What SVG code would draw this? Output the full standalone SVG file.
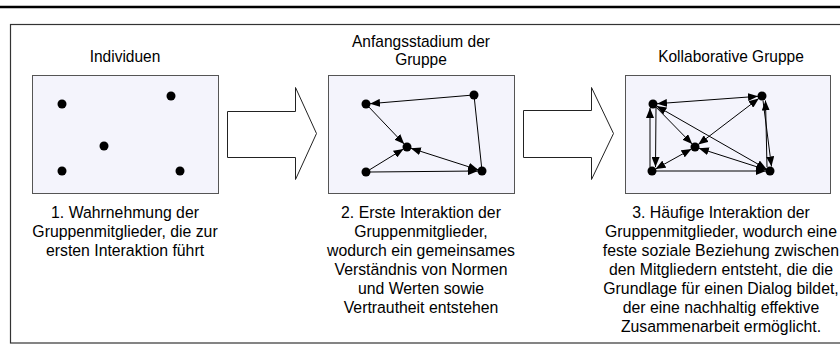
<svg xmlns="http://www.w3.org/2000/svg" width="840" height="354" viewBox="0 0 840 354">
  <defs>
    <marker id="ah" viewBox="0 0 10 8" refX="10" refY="4" markerWidth="10" markerHeight="8" markerUnits="userSpaceOnUse" orient="auto-start-reverse">
      <path d="M0,0 L10,4 L0,8 z" fill="#000"/>
    </marker>
  </defs>
  <style>
    .txt { font-family: "Liberation Sans", Arial, sans-serif; font-size: 17px; fill: #000; text-anchor: middle; }
    .ttl { font-family: "Liberation Sans", Arial, sans-serif; font-size: 16px; fill: #000; text-anchor: middle; }
    .panel { fill: #f4f4fc; stroke: #555; stroke-width: 1; }
    .dot { fill: #000; }
    .big-arrow { fill: #fff; stroke: #222; stroke-width: 1; }
    .edge { stroke: #000; stroke-width: 1; fill: none; }
    .one { marker-end: url(#ah); }
    .two { marker-start: url(#ah); marker-end: url(#ah); }
  </style>

  <rect width="840" height="354" fill="#fff"/>
  <!-- header rule and outer frame -->
  <line x1="0" y1="7" x2="840" y2="7" stroke="#000" stroke-width="2.5"/>
  <rect x="10.5" y="24.5" width="840" height="318.5" fill="none" stroke="#333" stroke-width="1.2"/>

  <!-- stage 1: individuals -->
  <g id="stage1">
    <g transform="translate(125,0) scale(0.97,1)">
      <text class="ttl" x="0" y="62">Individuen</text>
    </g>
    <rect class="panel" x="32.5" y="75.5" width="186" height="118"/>
    <circle class="dot" cx="62" cy="104" r="4.5"/>
    <circle class="dot" cx="171" cy="96" r="4.5"/>
    <circle class="dot" cx="104" cy="146" r="4.5"/>
    <circle class="dot" cx="62" cy="171" r="4.5"/>
    <circle class="dot" cx="180" cy="171" r="4.5"/>
    <g transform="translate(125,0) scale(0.93,1)">
      <text class="txt" x="0" y="218">1. Wahrnehmung der</text>
      <text class="txt" x="0" y="237">Gruppenmitglieder, die zur</text>
      <text class="txt" x="0" y="256">ersten Interaktion führt</text>
    </g>
  </g>

  <!-- transition arrows -->
  <g id="arrow1">
    <path class="big-arrow" d="M227.5,111.5 H295.5 V87.5 L316.5,133.5 L295.5,179.5 V157.5 H227.5 Z"/>
  </g>
  <g id="arrow2">
    <path class="big-arrow" d="M523.5,110.5 H591.5 V87.5 L613.5,133.5 L591.5,179.5 V157.5 H523.5 Z"/>
  </g>

  <!-- stage 2: initial group -->
  <g id="stage2">
    <g transform="translate(421,0) scale(0.97,1)">
      <text class="ttl" x="0" y="47">Anfangsstadium der</text>
      <text class="ttl" x="0" y="65">Gruppe</text>
    </g>
    <rect class="panel" x="328.5" y="75.5" width="186" height="118"/>
    <circle class="dot" cx="366" cy="104" r="4.5"/>
    <circle class="dot" cx="474" cy="95" r="4.5"/>
    <circle class="dot" cx="407" cy="147" r="4.5"/>
    <circle class="dot" cx="366" cy="172" r="4.5"/>
    <circle class="dot" cx="482" cy="171" r="4.5"/>
    <g transform="translate(421,0) scale(0.93,1)">
      <text class="txt" x="0" y="218">2. Erste Interaktion der</text>
      <text class="txt" x="0" y="237">Gruppenmitglieder,</text>
      <text class="txt" x="0" y="256">wodurch ein gemeinsames</text>
      <text class="txt" x="0" y="275">Verständnis von Normen</text>
      <text class="txt" x="0" y="294">und Werten sowie</text>
      <text class="txt" x="0" y="313">Vertrautheit entstehen</text>
    </g>
  </g>

  <!-- stage 3: collaborative group -->
  <g id="stage3">
    <g transform="translate(731,0) scale(0.97,1)">
      <text class="ttl" x="0" y="62">Kollaborative Gruppe</text>
    </g>
    <rect class="panel" x="625.5" y="75.5" width="205" height="118"/>
    <circle class="dot" cx="653" cy="104" r="4.5"/>
    <circle class="dot" cx="762" cy="96" r="4.5"/>
    <circle class="dot" cx="695" cy="147" r="4.5"/>
    <circle class="dot" cx="652" cy="171" r="4.5"/>
    <circle class="dot" cx="770" cy="171" r="4.5"/>
    <g transform="translate(721,0) scale(0.93,1)">
      <text class="txt" x="0" y="218">3. Häufige Interaktion der</text>
      <text class="txt" x="0" y="237">Gruppenmitglieder, wodurch eine</text>
      <text class="txt" x="0" y="256">feste soziale Beziehung zwischen</text>
      <text class="txt" x="0" y="275">den Mitgliedern entsteht, die die</text>
      <text class="txt" x="0" y="294">Grundlage für einen Dialog bildet,</text>
      <text class="txt" x="0" y="313">der eine nachhaltig effektive</text>
      <text class="txt" x="0" y="332">Zusammenarbeit ermöglicht.</text>
    </g>
  </g>

  <!-- interaction edges -->
  <g id="connectors">
    <!-- stage 2 -->
    <line class="edge one" x1="470" y1="95.3" x2="370" y2="103.7"/>
    <line class="edge one" x1="368.8" y1="106.9" x2="404.2" y2="144.1"/>
    <line class="edge" x1="474.4" y1="99" x2="481.6" y2="167"/>
    <line class="edge one" x1="369.4" y1="169.9" x2="403.6" y2="148.9"/>
    <line class="edge one" x1="370" y1="172" x2="478" y2="171"/>
    <line class="edge two" x1="410.8" y1="148.2" x2="478.2" y2="169.8"/>
    <!-- stage 3 -->
    <line class="edge two" x1="657" y1="103.7" x2="758" y2="96.3"/>
    <line class="edge one" x1="650" y1="167" x2="650" y2="108"/>
    <line class="edge one" x1="656" y1="108" x2="655.5" y2="167"/>
    <line class="edge one" x1="763" y1="100.5" x2="771.5" y2="166.5"/>
    <line class="edge one" x1="767" y1="167" x2="765.5" y2="100.5"/>
    <line class="edge one" x1="655.8" y1="106.9" x2="692.2" y2="144.1"/>
    <line class="edge two" x1="656.5" y1="106" x2="766.5" y2="169"/>
    <line class="edge two" x1="758.8" y1="98.4" x2="698.2" y2="144.6"/>
    <line class="edge two" x1="691.5" y1="149" x2="655.5" y2="169"/>
    <line class="edge two" x1="698.8" y1="148.2" x2="766.2" y2="169.8"/>
    <line class="edge one" x1="656" y1="171" x2="766" y2="171"/>
  </g>
</svg>
